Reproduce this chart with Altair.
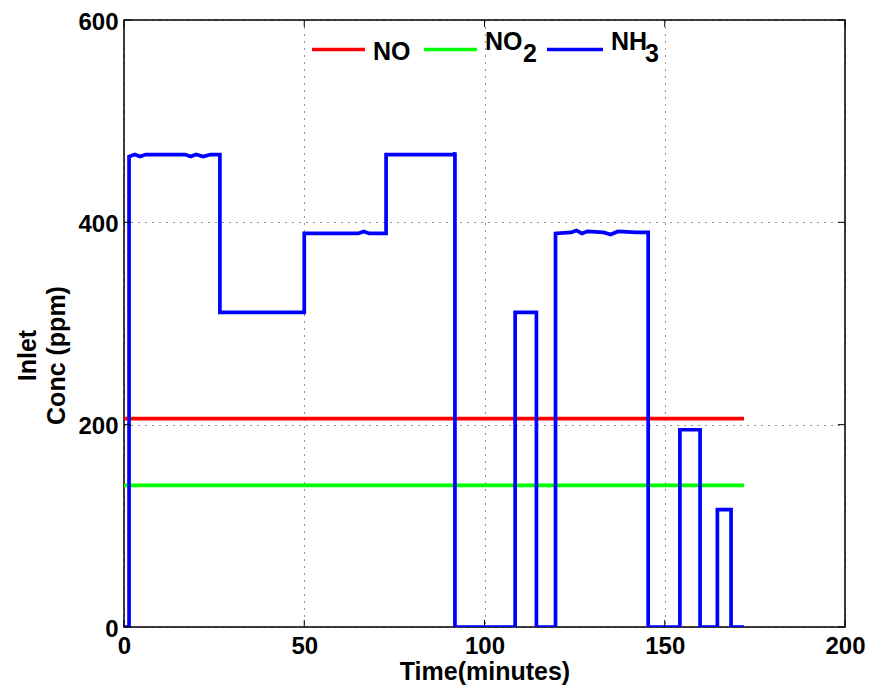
import altair as alt
import pandas as pd

# ---- data ----
nh3_time = [0, 1.4, 1.4, 3.0, 4.5, 6.0, 17.0, 18.5, 20.0, 22.0, 24.0, 26.6, 26.6, 50.0, 50.0,
            65.0, 66.5, 68.0, 72.7, 72.7, 91.5, 91.8, 91.8, 108.5, 108.5, 114.4, 114.4, 119.7,
            119.7, 124.0, 125.5, 127.0, 128.5, 133.0, 135.0, 137.0, 142.0, 145.4, 145.4, 154.2,
            154.2, 159.8, 159.8, 164.6, 164.6, 168.4, 168.4, 172.0]
nh3_conc = [0, 0, 465, 467, 465, 467, 467, 465, 467, 465, 467, 467, 311, 311, 389,
            389, 391, 389, 389, 467, 467, 469, 0, 0, 311, 311, 0, 0,
            389, 390, 392, 389, 391, 390, 388, 391, 390, 390, 0, 0,
            195, 195, 0, 0, 116, 116, 0, 0]
no_time = [0, 172]
no_conc = [206, 206]
no2_time = [0, 172]
no2_conc = [140, 140]

x_ticks = [0, 50, 100, 150, 200]
y_ticks = [0, 200, 400, 600]

series_names = ["NO", "NO2", "NH3"]
series_colors = ["#FF0000", "#00FF00", "#0000FF"]

rows = []
for name, ts, cs in [("NO", no_time, no_conc), ("NO2", no2_time, no2_conc), ("NH3", nh3_time, nh3_conc)]:
    for i, (t, c) in enumerate(zip(ts, cs)):
        rows.append({"series": name, "time": t, "conc": c, "idx": i})
df = pd.DataFrame(rows)

FONT = "Liberation Sans"
W, H = 721, 607
TL = 7  # inward tick length

xs = alt.Scale(domain=[0, 200], nice=False)
ys = alt.Scale(domain=[0, 600], nice=False)

lines = alt.Chart(df).mark_line(strokeWidth=3.7, clip=True).encode(
    x=alt.X("time:Q", scale=xs,
            axis=alt.Axis(values=x_ticks, title="Time(minutes)")),
    y=alt.Y("conc:Q", scale=ys,
            axis=alt.Axis(values=y_ticks, title=["Inlet", "Conc (ppm)"])),
    color=alt.Color("series:N", scale=alt.Scale(domain=series_names, range=series_colors), legend=None),
    order="idx:Q",
)

xt = pd.DataFrame({"t": x_ticks})
yt = pd.DataFrame({"v": y_ticks})
tick_layers = [
    alt.Chart(xt).mark_rule(color="black", strokeWidth=1).encode(
        x=alt.X("t:Q", scale=xs), y=alt.value(H), y2=alt.value(H - TL)),
    alt.Chart(xt).mark_rule(color="black", strokeWidth=1).encode(
        x=alt.X("t:Q", scale=xs), y=alt.value(0), y2=alt.value(TL)),
    alt.Chart(yt).mark_rule(color="black", strokeWidth=1).encode(
        y=alt.Y("v:Q", scale=ys), x=alt.value(0), x2=alt.value(TL)),
    alt.Chart(yt).mark_rule(color="black", strokeWidth=1).encode(
        y=alt.Y("v:Q", scale=ys), x=alt.value(W), x2=alt.value(W - TL)),
]

one = pd.DataFrame({"a": [0]})
base = alt.Chart(one)

def seg(x1, x2, y, col):
    return base.mark_rule(strokeWidth=3.7, color=col).encode(
        x=alt.value(x1), x2=alt.value(x2), y=alt.value(y))

def txt(x, y, s, size=25):
    return base.mark_text(align="left", baseline="alphabetic", font=FONT, fontWeight="bold",
                          fontSize=size, color="black").encode(
        x=alt.value(x), y=alt.value(y), text=alt.value(s))

legend = alt.layer(
    seg(188, 241, 29.5, "#FF0000"), txt(249, 40, "NO"),
    seg(300, 353, 29.5, "#00FF00"), txt(361, 29.5, "NO"), txt(399, 41.7, "2"),
    seg(423, 479, 29.5, "#0000FF"), txt(487, 29.5, "NH"), txt(521, 41.7, "3"),
)

chart = alt.layer(lines, *tick_layers, legend).properties(
    width=W, height=H,
    padding={"left": 116, "top": 12, "right": 21, "bottom": 58},
    autosize=alt.AutoSizeParams(type="none"),
).configure_view(
    stroke="black", strokeWidth=1.5
).configure_axis(
    labelFont=FONT, titleFont=FONT, labelFontWeight="bold", titleFontWeight="bold",
    labelFontSize=24, titleFontSize=25, labelColor="black", titleColor="black",
    grid=True, gridColor="black", gridDash=[1, 6], gridWidth=1, gridOpacity=0.85,
    ticks=False, domain=False, labelFlush=False, labelOverlap=False,
).configure_axisX(
    labelPadding=7, titlePadding=1,
).configure_axisY(
    labelPadding=6, labelOffset=2, titlePadding=8, titleY=335, titleLineHeight=29,
)

chart.save("out.html", embed_options={"renderer": "svg", "actions": False})
